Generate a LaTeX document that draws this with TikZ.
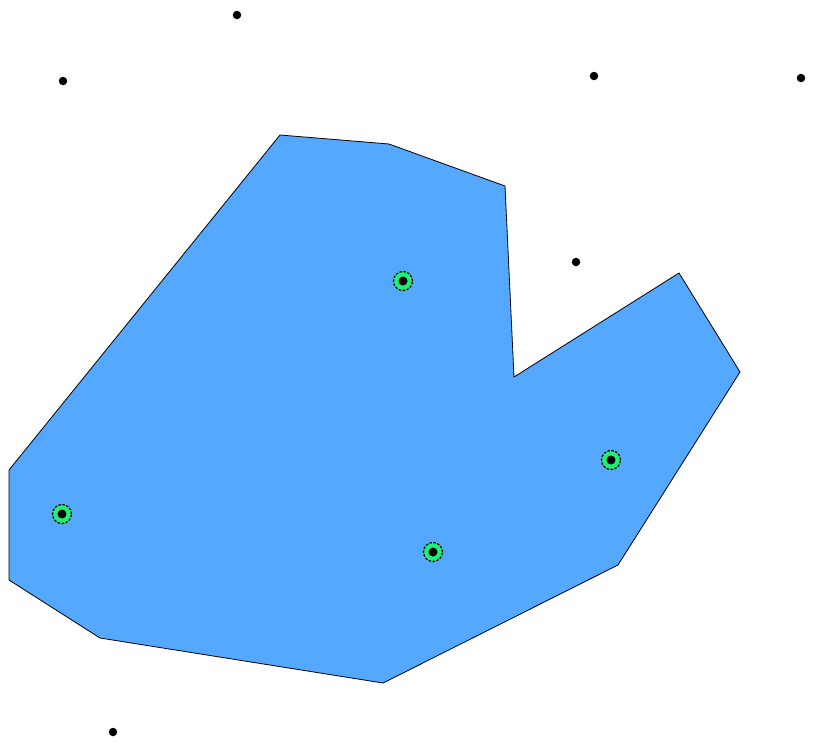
\documentclass[tikz,border=0pt]{standalone}
\definecolor{polyblue}{RGB}{85,168,255}
\definecolor{mgreen}{RGB}{30,240,120}
\tikzset{
  pt/.style={circle,fill=black,inner sep=0pt,minimum size=8.5pt},
  marker/.style={circle,fill=mgreen,draw=black,dash pattern=on 2.5pt off 1.5pt,line width=1.2pt,inner sep=0pt,minimum size=19pt,
    path picture={\fill[black] (path picture bounding box.center) circle (4.5pt);}},
  poly/.style={fill=polyblue,draw=black,line width=0.8pt,line join=miter}
}
\begin{document}
\begin{tikzpicture}[x=1pt,y=-1pt]
\useasboundingbox (0,0) rectangle (814,747);
\coordinate (v1) at (280,135);
\coordinate (v2) at (389,144);
\coordinate (v3) at (505,186);
\coordinate (v4) at (514,377);
\coordinate (v5) at (679,273);
\coordinate (v6) at (740,372);
\coordinate (v7) at (618,565);
\coordinate (v8) at (383,683);
\coordinate (v9) at (100,638);
\coordinate (v10) at (9,580);
\coordinate (v11) at (9,470);
\draw[poly] (v1) -- (v2) -- (v3) -- (v4) -- (v5) -- (v6) -- (v7) -- (v8) -- (v9) -- (v10) -- (v11) -- cycle;
\node[pt] (p1) at (237,15) {};
\node[pt] (p2) at (63,81) {};
\node[pt] (p3) at (594,76) {};
\node[pt] (p4) at (801,78) {};
\node[pt] (p5) at (576,262) {};
\node[pt] (p6) at (113,732) {};
\node[marker] (g1) at (403,281) {};
\node[marker] (g2) at (62,514) {};
\node[marker] (g3) at (611,460) {};
\node[marker] (g4) at (433,552) {};
\end{tikzpicture}
\end{document}
